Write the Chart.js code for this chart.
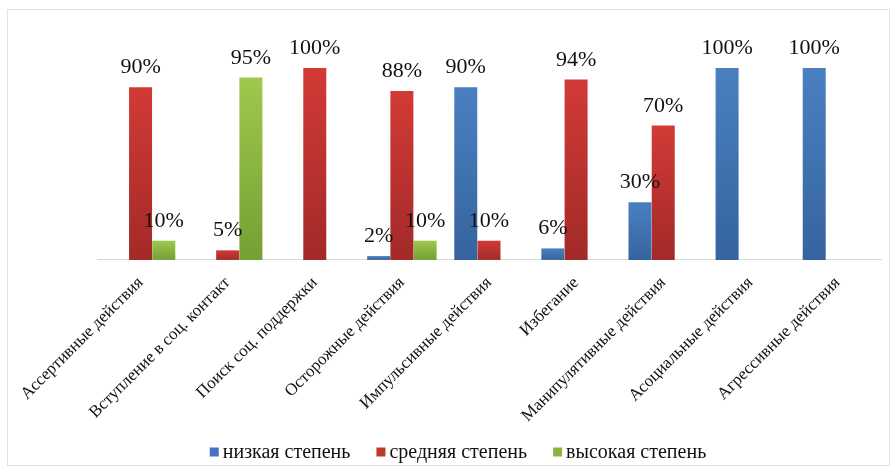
<!DOCTYPE html>
<html>
<head>
<meta charset="utf-8">
<script src="https://cdn.jsdelivr.net/npm/chart.js@4/dist/chart.umd.min.js"></script>
<style>
    html, body { margin: 0; padding: 0; background: #fff; }
    #wrap { position: relative; width: 895px; height: 476px; }
    #frame { position: absolute; left: 7px; top: 9px; width: 883px; height: 457px; border: 1px solid #dde3ea; box-sizing: border-box; }
    canvas { position: absolute; left: 0; top: 0; }
</style>
</head>
<body>
<div id="wrap">
    <div id="frame"></div>
    <canvas id="chart" width="895" height="476"></canvas>
</div>
<script>
const categories = [
    "Ассертивные действия",
    "Вступление в соц. контакт",
    "Поиск соц. поддержки",
    "Осторожные действия",
    "Импульсивные действия",
    "Избегание",
    "Манипулятивные действия",
    "Асоциальные действия",
    "Агрессивные действия"
];
const seriesNames = ["низкая степень", "средняя степень", "высокая степень"];
const lowValues = [0, 0, 0, 2, 90, 6, 30, 100, 100];
const midValues = [90, 5, 100, 88, 10, 94, 70, 0, 0];
const highValues = [10, 95, 0, 10, 0, 0, 0, 0, 0];

const serif = '"Liberation Serif", "Times New Roman", serif';

// top / bottom colours of each bar's gradient
const colorTop = ["#4a80c0", "#d23a36", "#9fc84c"];
const colorBottom = ["#35649f", "#a22a28", "#74a034"];
const legendColor = ["#4472c4", "#c0392b", "#8cb43f"];

function barFill(i) {
    return function(ctx) {
        const chart = ctx.chart;
        if (!chart.chartArea || ctx.dataIndex === undefined) return legendColor[i];
        const y = chart.scales.y;
        const top = y.getPixelForValue(ctx.raw || 0);
        const bottom = y.getPixelForValue(0);
        if (bottom - top < 1) return colorBottom[i];
        const g = chart.ctx.createLinearGradient(0, top, 0, bottom);
        g.addColorStop(0, colorTop[i]);
        g.addColorStop(1, colorBottom[i]);
        return g;
    };
}

const valueLabels = {
    id: 'valueLabels',
    afterDatasetsDraw(chart) {
        const ctx = chart.ctx;
        ctx.save();
        ctx.font = '22px ' + serif;
        ctx.fillStyle = '#111';
        ctx.textAlign = 'center';
        ctx.textBaseline = 'alphabetic';
        chart.data.datasets.forEach((ds, di) => {
            const meta = chart.getDatasetMeta(di);
            meta.data.forEach((bar, i) => {
                const v = ds.data[i];
                if (!v) return;
                ctx.fillText(v + '%', bar.x, bar.y - 14);
            });
        });
        ctx.restore();
    }
};

// legend centred under the plot like the original
const bottomLegend = {
    id: 'bottomLegend',
    afterDraw(chart) {
        const ctx = chart.ctx;
        ctx.save();
        ctx.font = '20px ' + serif;
        ctx.textBaseline = 'middle';
        const box = 9, gap = 4, spacing = 26;
        const widths = seriesNames.map(t => box + gap + ctx.measureText(t).width);
        const total = widths.reduce((a, b) => a + b, 0) + spacing * (widths.length - 1);
        let x = 458 - total / 2;
        const y = 452;
        seriesNames.forEach((t, i) => {
            ctx.fillStyle = legendColor[i];
            ctx.fillRect(x, y - box / 2, box, box);
            ctx.fillStyle = '#111';
            ctx.fillText(t, x + box + gap, y + 1);
            x += widths[i] + spacing;
        });
        ctx.restore();
    }
};

const chart = new Chart(document.getElementById('chart').getContext('2d'), {
    type: 'bar',
    data: {
        labels: categories,
        datasets: [
            { label: seriesNames[0], data: lowValues, backgroundColor: barFill(0) },
            { label: seriesNames[1], data: midValues, backgroundColor: barFill(1) },
            { label: seriesNames[2], data: highValues, backgroundColor: barFill(2) }
        ]
    },
    options: {
        responsive: false,
        animation: false,
        layout: { padding: { left: 97, right: 14, top: 68, bottom: 37 } },
        datasets: {
            bar: { categoryPercentage: 0.8, barPercentage: 0.99 }
        },
        plugins: {
            legend: { display: false },
            tooltip: { enabled: false }
        },
        scales: {
            x: {
                grid: { display: false, drawTicks: false },
                border: { display: true, color: '#d9d9d9', width: 1 },
                ticks: {
                    minRotation: 45,
                    maxRotation: 45,
                    padding: 13,
                    color: '#111',
                    font: { family: serif, size: 17 }
                }
            },
            y: {
                display: false,
                min: 0,
                max: 100
            }
        }
    },
    plugins: [valueLabels, bottomLegend]
});
</script>
</body>
</html>
